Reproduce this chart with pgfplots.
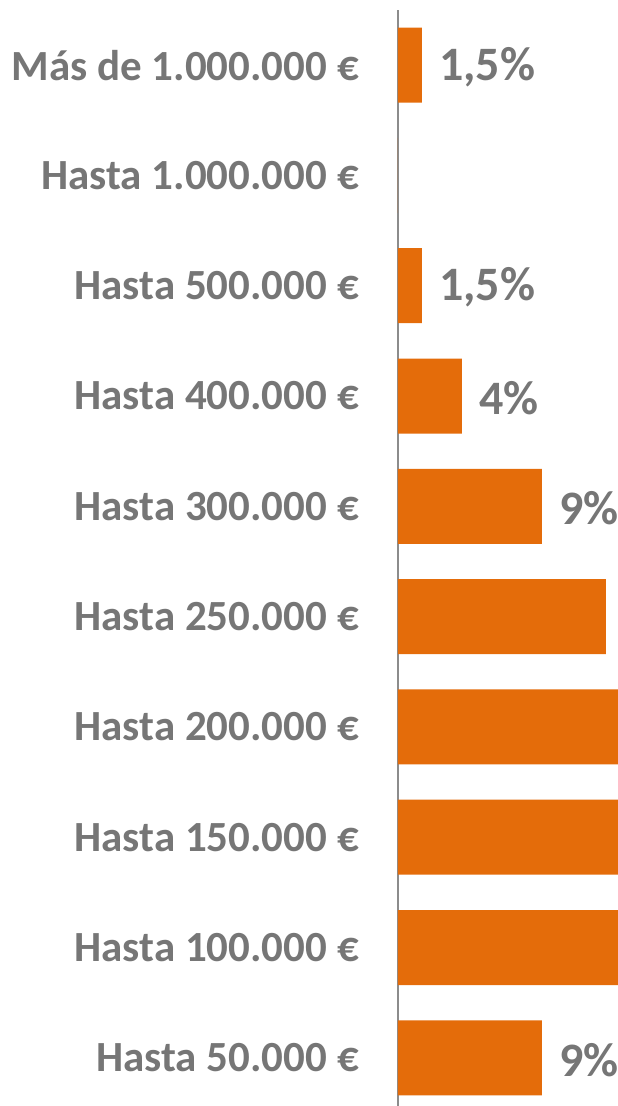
\documentclass[border=0pt]{standalone}
\usepackage{pgfplots}
\pgfplotsset{compat=1.18}
\usepackage{fontspec}
\setmainfont{Carlito}
\definecolor{barorange}{HTML}{E46C0A}
\definecolor{txtgray}{HTML}{767676}
\definecolor{axgray}{HTML}{8C8C8C}
\begin{document}
\begin{tikzpicture}
\useasboundingbox (-398pt,7pt) rectangle (220pt,1113pt);
\clip (-398pt,7pt) rectangle (220pt,1113pt);
\begin{axis}[
  at={(0pt,0pt)}, anchor=south west,
  scale only axis,
  width=220pt, height=1103pt,
  xbar, bar width=75pt,
  xmin=0, xmax=13.75,
  ymin=-0.5, ymax=9.5,
  axis x line=none,
  axis y line=left,
  y axis line style={-, draw=axgray, line width=1.6pt},
  ytick={0,...,9},
  yticklabels={Hasta 50.000 €, Hasta 100.000 €, Hasta 150.000 €, Hasta 200.000 €, Hasta 250.000 €, Hasta 300.000 €, Hasta 400.000 €, Hasta 500.000 €, Hasta 1.000.000 €, Más de 1.000.000 €},
  major tick length=0pt,
  ytick style={draw=none},
  yticklabel style={font=\fontsize{43}{51}\selectfont\bfseries, text=txtgray, anchor=east, inner sep=0pt, xshift=-39pt},
  point meta=explicit symbolic,
  nodes near coords,
  every node near coord/.append style={font=\fontsize{48}{57}\selectfont\bfseries, text=txtgray, anchor=west, inner sep=0pt, xshift=17pt, yshift=-2pt},
]
\addplot[fill=barorange, draw=none] coordinates {
  (9,0) [9\%] (20,1) [] (22,2) [] (20,3) [] (13,4) [] (9,5) [9\%] (4,6) [4\%] (1.5,7) [1,5\%] (0,8) [] (1.5,9) [1,5\%]
};
\end{axis}
\end{tikzpicture}
\end{document}
